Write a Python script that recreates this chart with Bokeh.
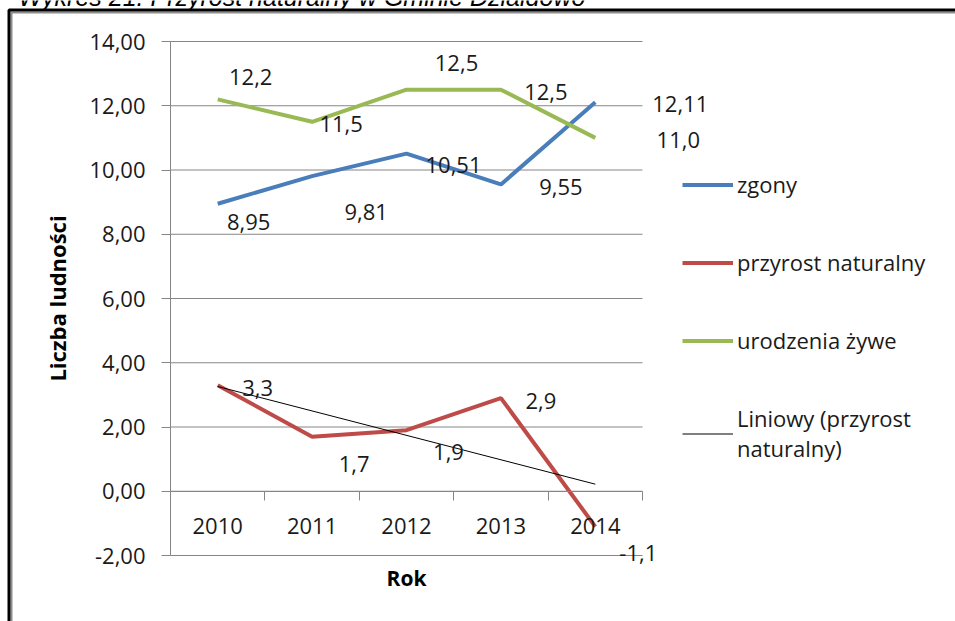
import numpy as np
from bokeh.plotting import figure
from bokeh.models import (Range1d, FixedTicker, ColumnDataSource, LabelSet, Label,
                          Legend, LegendItem, BoxAnnotation, LinearAxis)
from bokeh.core.properties import value
from bokeh.embed import file_html
from bokeh.resources import INLINE

# ---------------- data ----------------
years = ["2010", "2011", "2012", "2013", "2014"]
zgony = [8.95, 9.81, 10.51, 9.55, 12.11]
przyrost = [3.3, 1.7, 1.9, 2.9, -1.1]
urodzenia = [12.2, 11.5, 12.5, 12.5, 11.0]
zgony_labels = ["8,95", "9,81", "10,51", "9,55", "12,11"]
przyrost_labels = ["3,3", "1,7", "1,9", "2,9", "-1,1"]
urodzenia_labels = ["12,2", "11,5", "12,5", "12,5", "11,0"]
y_ticks = [-2, 0, 2, 4, 6, 8, 10, 12, 14]
title_text = "Wykres 21. Przyrost naturalny w Gminie Działdowo"

# label offsets in pixels (right, down) - styling only
zgony_off = [(31, 18), (54, 36), (47, 11), (60, 3), (85, 2)]
przyrost_off = [(40, 3), (42, 27), (42, 22), (40, 3), (43, 26)]
urodzenia_off = [(33, -22), (29, 2), (50, -27), (45, 2), (83, 2)]

# ---------------- layout (pixels) ----------------
W, H = 955, 621
PL, PR, PT, PB = 170, 642, 41, 555   # plot area in canvas pixels

FONT = "Open Sans"
FS = "22px"
TXT = "#1a1a1a"
BLUE = "#4A7EBB"
RED = "#BE4B48"
GREEN = "#98B954"
GRID = "#868686"

xs = list(range(1, len(years) + 1))
x0, x1 = xs[0] - 0.5, xs[-1] + 0.5
y0, y1 = y_ticks[0], y_ticks[-1]
kx = (PR - PL) / (x1 - x0)
ky = (PB - PT) / (y1 - y0)
x_range = Range1d(x0 - PL / kx, x1 + (W - PR) / kx)
y_range = Range1d(y0 - (H - PB) / ky, y1 + PT / ky)

p = figure(width=W, height=H, output_backend="svg", toolbar_location=None,
           x_range=x_range, y_range=y_range,
           min_border_left=0, min_border_right=0, min_border_top=0,
           min_border_bottom=0, background_fill_color="white",
           border_fill_color="white")
p.outline_line_color = None
p.xgrid.visible = False
p.ygrid.visible = False

# y axis, fixed at the left edge of the plot area
ya = p.yaxis[0]
ya.fixed_location = x0
ya.bounds = (y0, y1)
ya.ticker = FixedTicker(ticks=y_ticks)
ya.major_label_overrides = {v: f"{v:.2f}".replace(".", ",") for v in y_ticks}
ya.major_label_text_font = FONT
ya.major_label_text_font_size = FS
ya.major_label_text_color = TXT
ya.major_label_standoff = 16
ya.major_tick_out = 9
ya.major_tick_in = 0
ya.minor_tick_line_color = None
ya.axis_line_color = GRID
ya.major_tick_line_color = GRID
ya.axis_label = "Liczba ludności"
ya.axis_label_text_font = FONT
ya.axis_label_text_font_size = "22px"
ya.axis_label_text_font_style = "bold"
ya.axis_label_text_color = "black"
ya.axis_label_standoff = 14

# x axis crossing at zero: year labels, category tick marks
xa = p.xaxis[0]
xa.fixed_location = 0
xa.bounds = (x0, x1)
xa.ticker = FixedTicker(ticks=xs, minor_ticks=[x - 0.5 for x in xs] + [x1])
xa.major_label_overrides = {x: y for x, y in zip(xs, years)}
xa.major_label_text_font = FONT
xa.major_label_text_font_size = FS
xa.major_label_text_color = TXT
xa.major_label_standoff = 18
xa.major_tick_line_color = None
xa.major_tick_out = 0
xa.major_tick_in = 0
xa.minor_tick_out = 9
xa.minor_tick_in = 0
xa.minor_tick_line_color = GRID
xa.axis_line_color = GRID

# axis title "Rok" at the bottom of the plot area
ra = LinearAxis(fixed_location=y0, bounds=(x0, x1), ticker=FixedTicker(ticks=[]),
                axis_line_color=None, major_tick_line_color=None,
                minor_tick_line_color=None, axis_label="Rok",
                axis_label_text_font=FONT, axis_label_text_font_size="21px",
                axis_label_text_font_style="bold", axis_label_text_color="black",
                axis_label_standoff=8)
p.add_layout(ra, "below")

# horizontal gridlines over the plot area
p.segment(x0=[x0] * len(y_ticks), x1=[x1] * len(y_ticks), y0=y_ticks, y1=y_ticks,
          line_color=GRID, line_width=1)

# series
r_z = p.line(xs, zgony, line_color=BLUE, line_width=4)
r_p = p.line(xs, przyrost, line_color=RED, line_width=4)
r_u = p.line(xs, urodzenia, line_color=GREEN, line_width=4)
coef = np.polyfit(xs, przyrost, 1)
tx = [xs[0], xs[-1]]
r_t = p.line(tx, list(np.polyval(coef, tx)), line_color="black", line_width=1)


def add_labels(vals, texts, offs):
    src = ColumnDataSource(dict(x=xs, y=vals, t=texts,
                                dx=[o[0] for o in offs],
                                dy=[-o[1] for o in offs]))
    p.add_layout(LabelSet(x="x", y="y", text="t", source=src,
                          x_offset="dx", y_offset="dy",
                          text_align="center", text_baseline="middle",
                          text_font=value(FONT), text_font_size=value(FS),
                          text_color=TXT))


add_labels(zgony, zgony_labels, zgony_off)
add_labels(przyrost, przyrost_labels, przyrost_off)
add_labels(urodzenia, urodzenia_labels, urodzenia_off)

legend = Legend(items=[LegendItem(label="zgony", renderers=[r_z]),
                       LegendItem(label="przyrost naturalny", renderers=[r_p]),
                       LegendItem(label="urodzenia żywe", renderers=[r_u]),
                       LegendItem(label="Liniowy (przyrost\nnaturalny)", renderers=[r_t])],
                location=(682, H - 463), orientation="vertical",
                padding=0, margin=0, spacing=48, glyph_width=51, glyph_height=25,
                label_height=25, label_standoff=4, border_line_color=None,
                background_fill_alpha=0, label_text_font=FONT,
                label_text_line_height=1.35,
                label_text_font_size=FS, label_text_color=TXT)
p.add_layout(legend, "center")

# outer chart border (top and left, running off the page)
p.add_layout(BoxAnnotation(left=11, right=W + 50, top=H - 12, bottom=-50,
                           left_units="screen", right_units="screen",
                           top_units="screen", bottom_units="screen",
                           fill_alpha=0, line_color="#8c8c8c", line_alpha=1,
                           line_width=2))
p.add_layout(BoxAnnotation(left=8.5, right=W + 50, top=H - 9.5, bottom=-50,
                           left_units="screen", right_units="screen",
                           top_units="screen", bottom_units="screen",
                           fill_alpha=0, line_color="black", line_alpha=1,
                           line_width=3))

# title, cut at the top of the page
p.add_layout(Label(x=18, y=H + 4, x_units="screen", y_units="screen",
                   text=title_text, text_font="Liberation Sans",
                   text_font_style="italic", text_font_size="25px",
                   text_baseline="alphabetic", text_color="black"))

open("out.html", "w").write(file_html(p, INLINE))
